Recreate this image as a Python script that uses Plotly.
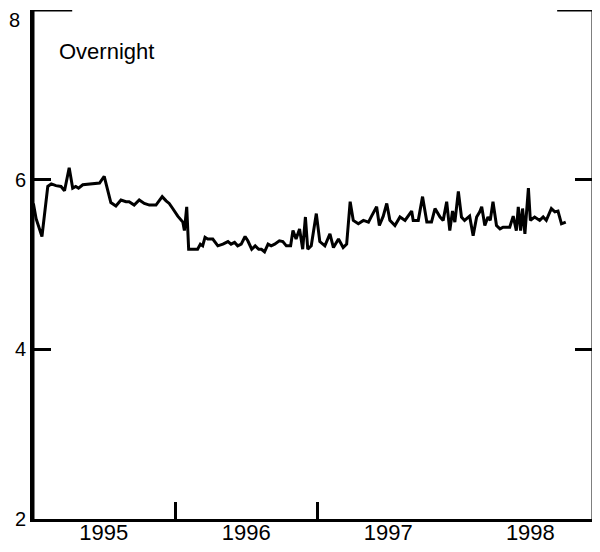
import plotly.graph_objects as go

# Overnight rate (percent)
dates = [
    "1995-01-02", "1995-01-09", "1995-01-24", "1995-02-08", "1995-02-17", "1995-03-01",
    "1995-03-14", "1995-03-23", "1995-04-04", "1995-04-13", "1995-04-21", "1995-04-28",
    "1995-05-09", "1995-06-03", "1995-06-21", "1995-07-03", "1995-07-08", "1995-07-20",
    "1995-08-02", "1995-08-15", "1995-08-28", "1995-09-05", "1995-09-18", "1995-10-01",
    "1995-10-14", "1995-10-27", "1995-11-13", "1995-11-29", "1995-12-09", "1995-12-17",
    "1995-12-26", "1996-01-08", "1996-01-21", "1996-01-25", "1996-01-31", "1996-02-05",
    "1996-02-16", "1996-02-28", "1996-03-06", "1996-03-12", "1996-03-18", "1996-03-25",
    "1996-04-07", "1996-04-20", "1996-05-03", "1996-05-16", "1996-05-24", "1996-06-02",
    "1996-06-10", "1996-06-19", "1996-06-29", "1996-07-06", "1996-07-16", "1996-07-25",
    "1996-08-03", "1996-08-10", "1996-08-18", "1996-08-27", "1996-09-04", "1996-09-13",
    "1996-09-25", "1996-10-04", "1996-10-13", "1996-10-24", "1996-10-30", "1996-11-07",
    "1996-11-16", "1996-11-24", "1996-12-01", "1996-12-07", "1996-12-16", "1996-12-29",
    "1997-01-07", "1997-01-20", "1997-02-02", "1997-02-11", "1997-02-24", "1997-03-08",
    "1997-03-17", "1997-03-26", "1997-04-03", "1997-04-16", "1997-04-29", "1997-05-12",
    "1997-05-20", "1997-06-02", "1997-06-09", "1997-06-19", "1997-06-28", "1997-07-06",
    "1997-07-19", "1997-08-01", "1997-08-14", "1997-08-31", "1997-09-04", "1997-09-17",
    "1997-09-28", "1997-10-09", "1997-10-21", "1997-10-30", "1997-11-12", "1997-11-20",
    "1997-11-29", "1997-12-07", "1997-12-14", "1997-12-20", "1997-12-29", "1998-01-06",
    "1998-01-14", "1998-01-27", "1998-02-05", "1998-02-14", "1998-02-22", "1998-02-27",
    "1998-03-07", "1998-03-15", "1998-03-21", "1998-03-28", "1998-04-06", "1998-04-15",
    "1998-04-23", "1998-05-10", "1998-05-19", "1998-05-27", "1998-06-01", "1998-06-07",
    "1998-06-12", "1998-06-18", "1998-06-27", "1998-07-02", "1998-07-13", "1998-07-26",
    "1998-08-04", "1998-08-12", "1998-08-25", "1998-09-03", "1998-09-11", "1998-09-20",
    "1998-10-01",
]
rates = [
    5.72, 5.54, 5.33, 5.92, 5.95, 5.93,
    5.92, 5.87, 6.14, 5.90, 5.92, 5.90,
    5.94, 5.95, 5.96, 6.04, 5.95, 5.73,
    5.69, 5.76, 5.74, 5.74, 5.70, 5.76,
    5.72, 5.70, 5.70, 5.80, 5.75, 5.72,
    5.66, 5.57, 5.50, 5.40, 5.68, 5.18,
    5.18, 5.18, 5.24, 5.22, 5.32, 5.30,
    5.30, 5.22, 5.24, 5.27, 5.24, 5.26,
    5.22, 5.24, 5.33, 5.28, 5.18, 5.22,
    5.18, 5.18, 5.15, 5.24, 5.22, 5.24,
    5.28, 5.27, 5.22, 5.22, 5.40, 5.30,
    5.42, 5.18, 5.56, 5.18, 5.22, 5.60,
    5.27, 5.22, 5.36, 5.20, 5.30, 5.20,
    5.24, 5.74, 5.52, 5.48, 5.52, 5.50,
    5.57, 5.68, 5.46, 5.57, 5.72, 5.52,
    5.46, 5.56, 5.52, 5.63, 5.52, 5.52,
    5.80, 5.50, 5.50, 5.66, 5.56, 5.52,
    5.74, 5.40, 5.63, 5.50, 5.86, 5.56,
    5.52, 5.57, 5.34, 5.56, 5.62, 5.68,
    5.46, 5.56, 5.52, 5.74, 5.46, 5.42,
    5.44, 5.44, 5.57, 5.40, 5.68, 5.40,
    5.66, 5.36, 5.90, 5.52, 5.56, 5.52,
    5.56, 5.52, 5.66, 5.62, 5.63, 5.48,
    5.50,
]

year_labels = ["1995", "1996", "1997", "1998"]
year_label_pos = ["1995-07-02", "1996-07-02", "1997-07-02", "1998-07-02"]
year_ticks = ["1996-01-01", "1997-01-01"]
y_ticks = [2, 4, 6, 8]
y_tick_text = ["2", "4", "6", ""]   # the top label is placed as an annotation
y_top_label = "8"
x_range = ["1995-01-01", "1998-12-10"]
series_name = "Overnight"

FONT = "Liberation Sans, Arial, Helvetica, sans-serif"

fig = go.Figure()
fig.add_trace(go.Scatter(
    x=dates, y=rates, mode="lines",
    line=dict(color="black", width=3),
    showlegend=False, hoverinfo="x+y",
))

axis_line = dict(color="black", width=3)

fig.update_layout(
    # page body has an 8px margin; keep the figure inside the window
    width=588, height=536,
    margin=dict(l=25, r=3, t=2, b=25, autoexpand=False),
    paper_bgcolor="white", plot_bgcolor="white",
    font=dict(family=FONT, color="black"),
    xaxis=dict(
        type="date", range=x_range,
        tickvals=year_label_pos, ticktext=year_labels,
        ticks="", showgrid=False, zeroline=False,
        showline=True, linecolor="black", linewidth=3,
        tickfont=dict(size=22), automargin=False,
        ticklabelstandoff=-8,
        minor=dict(tickvals=year_ticks, ticks="inside", ticklen=17,
                   tickwidth=3, tickcolor="black", showgrid=False),
    ),
    yaxis=dict(
        range=[2, 8], tickvals=y_ticks, ticktext=y_tick_text,
        ticks="inside", ticklen=18, tickwidth=3, tickcolor="black",
        showline=True, linecolor="black", linewidth=3, mirror="ticks",
        showgrid=False, zeroline=False, automargin=False,
        tickfont=dict(size=20),
    ),
    shapes=[
        dict(type="line", xref="paper", yref="paper", x0=0, x1=0, y0=0, y1=1,
             line=axis_line),
        dict(type="line", xref="paper", yref="paper", x0=1, x1=1, y0=0, y1=1,
             line=axis_line),
        dict(type="line", xref="paper", yref="y", x0=0, x1=0.07, y0=8, y1=8,
             line=axis_line),
        dict(type="line", xref="paper", yref="y", x0=0.936, x1=1, y0=8, y1=8,
             line=axis_line),
    ],
    annotations=[
        dict(text=series_name, xref="x domain", yref="y domain", x=0.042, y=0.918,
             xanchor="left", yanchor="middle", showarrow=False,
             font=dict(size=22, family=FONT, color="black")),
        dict(text=y_top_label, xref="paper", yref="y", x=0, y=8, yshift=-10,
             xanchor="right", xshift=-11, yanchor="middle", showarrow=False,
             font=dict(size=20, family=FONT, color="black")),
    ],
)

fig.write_html("out.html")
